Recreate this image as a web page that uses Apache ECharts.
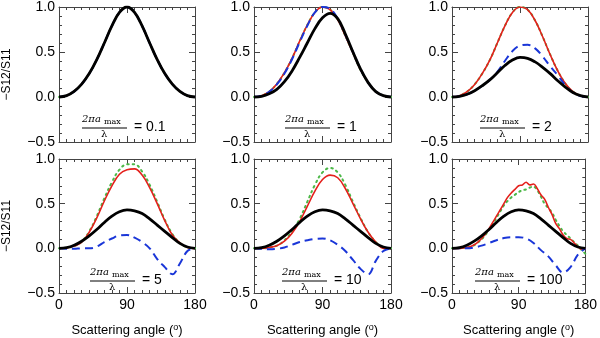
<!DOCTYPE html>
<html><head><meta charset="utf-8">
<script src="https://cdn.jsdelivr.net/npm/echarts@6/dist/echarts.min.js"></script>
<style>html,body{margin:0;padding:0;background:#fff}#c{width:600px;height:338px}</style>
</head><body><div id="c"></div>
<script>
// ---- data ----
const angles10 = [0,10,20,30,40,50,60,70,80,90,100,110,120,130,140,150,160,170,180];
const angles5 = [0,5,10,15,20,25,30,35,40,45,50,55,60,65,70,75,80,85,90,95,100,105,110,115,120,125,130,135,140,145,150,155,160,165,170,175,180];
const xTicks = [0, 90, 180];
const yTicks = [-0.5, 0, 0.5, 1.0];
const sizeLabels = ["0.1", "1", "2", "5", "10", "100"];

// panel 1 : 2πa/λ = 0.1
const p1Black = [0,0.015,0.062,0.143,0.26,0.415,0.6,0.79,0.94,1.0,0.94,0.79,0.6,0.415,0.26,0.143,0.062,0.015,0];
const p1Red   = [0,0.015,0.062,0.143,0.26,0.415,0.6,0.79,0.94,1.0,0.94,0.79,0.6,0.415,0.26,0.143,0.062,0.015,0];
const p1Green = [0,0.015,0.062,0.143,0.26,0.415,0.6,0.79,0.94,1.0,0.94,0.79,0.6,0.415,0.26,0.143,0.062,0.015,0];
const p1Blue  = [0,0.015,0.062,0.143,0.26,0.415,0.6,0.79,0.94,1.0,0.94,0.79,0.6,0.415,0.26,0.143,0.062,0.015,0];
// panel 2 : = 1
const p2Black = [0,0.008,0.035,0.085,0.17,0.29,0.44,0.6,0.76,0.88,0.93,0.87,0.7,0.5,0.31,0.16,0.06,0.015,0];
const p2Red   = [0,0.015,0.06,0.145,0.27,0.43,0.62,0.8,0.94,1.0,0.97,0.86,0.68,0.49,0.3,0.16,0.06,0.015,0];
const p2Green = [0,0.015,0.06,0.145,0.27,0.43,0.62,0.8,0.94,1.0,0.97,0.86,0.68,0.49,0.3,0.16,0.06,0.015,0];
const p2Blue  = [0,0.014,0.058,0.14,0.26,0.42,0.61,0.79,0.94,1.0,0.98,0.87,0.69,0.5,0.31,0.16,0.06,0.015,0];
// panel 3 : = 2
const p3Black = [0,0.008,0.03,0.07,0.125,0.19,0.27,0.35,0.41,0.44,0.43,0.39,0.33,0.26,0.18,0.11,0.05,0.015,0];
const p3Red   = [0,0.015,0.06,0.14,0.26,0.41,0.6,0.79,0.94,1.0,0.97,0.85,0.67,0.47,0.29,0.15,0.06,0.015,0];
const p3Green = [0,0.015,0.06,0.14,0.26,0.41,0.6,0.79,0.94,1.0,0.97,0.85,0.67,0.47,0.29,0.15,0.06,0.015,0];
const p3Blue  = [0,0.008,0.03,0.07,0.125,0.19,0.28,0.4,0.51,0.57,0.58,0.54,0.45,0.34,0.24,0.13,0.05,0.012,0];
// panel 4 : = 5
const p4Black = [0,0.008,0.035,0.08,0.14,0.21,0.29,0.36,0.41,0.43,0.42,0.39,0.33,0.26,0.19,0.12,0.055,0.015,0];
const p4Red   = [0,0.005,0.025,0.07,0.18,0.34,0.53,0.7,0.83,0.88,0.89,0.82,0.68,0.5,0.31,0.15,0.06,0.01,0];
const p4Green = [0,0.005,0.025,0.075,0.19,0.36,0.56,0.74,0.88,0.94,0.94,0.86,0.71,0.52,0.32,0.16,0.06,0.01,0];
const p4Blue  = [0,-0.005,-0.005,0,0.0,0.02,0.07,0.11,0.145,0.15,0.12,0.07,0.0,-0.12,-0.21,-0.29,-0.17,-0.03,0];
// panel 5 : = 10
const p5Black = [0,0.008,0.035,0.08,0.14,0.21,0.29,0.36,0.41,0.43,0.42,0.39,0.33,0.26,0.19,0.12,0.055,0.015,0];
const p5Red   = [0,0,0.01,0.03,0.08,0.17,0.3,0.47,0.64,0.77,0.82,0.79,0.67,0.5,0.33,0.18,0.07,0.0,0];
const p5Green = [0,0,0.01,0.03,0.09,0.19,0.33,0.52,0.71,0.85,0.9,0.85,0.71,0.52,0.34,0.18,0.07,0.01,0];
const p5Blue  = [0,-0.005,-0.01,-0.005,0.01,0.04,0.07,0.09,0.105,0.11,0.09,0.04,-0.03,-0.13,-0.23,-0.29,-0.14,-0.03,0];
// panel 6 : = 100
const p6Black = [0,0.008,0.035,0.08,0.14,0.21,0.29,0.36,0.41,0.43,0.42,0.39,0.33,0.26,0.19,0.12,0.055,0.015,0];
const p6Red   = [0,0,0,0.005,0.01,0.02,0.04,0.07,0.11,0.16,0.22,0.29,0.36,0.43,0.5,0.57,0.62,0.66,0.7,0.71,0.74,0.71,0.72,0.67,0.6,0.55,0.46,0.38,0.28,0.22,0.15,0.11,0.1,0.06,0.02,-0.01,0];
const p6Green = [0,0,0,0.005,0.01,0.02,0.035,0.065,0.1,0.15,0.21,0.27,0.34,0.41,0.48,0.53,0.57,0.6,0.63,0.65,0.66,0.68,0.69,0.65,0.58,0.5,0.45,0.4,0.32,0.25,0.19,0.15,0.11,0.07,0.03,-0.02,-0.06];
const p6Blue  = [0,0,0,0.01,0.03,0.06,0.09,0.115,0.125,0.125,0.11,0.06,-0.02,-0.09,-0.19,-0.27,-0.21,-0.07,0];

const panels = [
  {black:p1Black, red:p1Red, green:p1Green, blue:p1Blue, ax:angles10, axc:angles10},
  {black:p2Black, red:p2Red, green:p2Green, blue:p2Blue, ax:angles10, axc:angles10},
  {black:p3Black, red:p3Red, green:p3Green, blue:p3Blue, ax:angles10, axc:angles10},
  {black:p4Black, red:p4Red, green:p4Green, blue:p4Blue, ax:angles10, axc:angles10},
  {black:p5Black, red:p5Red, green:p5Green, blue:p5Blue, ax:angles10, axc:angles10},
  {black:p6Black, red:p6Red, green:p6Green, blue:p6Blue, ax:angles10, axc:angles5}
];

// ---- layout ----
const gridLefts = [59, 254, 452];
const gridWidths = [136, 137, 136];
const gridTops = [6, 159];
const gridH = 136;
const annOffsets = [23, 31, 28, 31, 28, 23];
const FONT = 'Liberation Sans, Arial, sans-serif';
const frame = '#444';

const zip = (a, v) => a.map((x, i) => [x, v[i]]);

const grids = [], xAxes = [], yAxes = [], series = [], graphics = [];
for (let k = 0; k < 6; k++) {
  const row = Math.floor(k / 3), col = k % 3;
  grids.push({left: gridLefts[col], top: gridTops[row], width: gridWidths[col], height: gridH});
  const common = {
    gridIndex: k, type: 'value',
    axisLine: {show: true, onZero: false, lineStyle: {color: frame, width: 1}},
    axisTick: {show: true, inside: true, length: 6, lineStyle: {color: frame}},
    minorTick: {show: true, length: 3, lineStyle: {color: frame}},
    splitLine: {show: false}
  };
  xAxes.push(Object.assign({}, common, {
    min: 0, max: 180, interval: 90, position: 'bottom',
    minorTick: Object.assign({}, common.minorTick, {splitNumber: 9}),
    axisLabel: {show: row === 1, fontSize: 14, color: '#000', fontFamily: FONT, margin: 5,
      formatter: v => xTicks.includes(v) ? String(v) : ''},
    name: row === 1 ? 'Scattering angle ({s|o})' : '',
    nameLocation: 'middle', nameGap: 30,
    nameTextStyle: {fontSize: 13, color: '#000', fontFamily: FONT,
      rich: {s: {fontSize: 9, color: '#000', fontFamily: FONT, verticalAlign: 'top', padding: [0,0,6,0]}}}
  }));
  xAxes.push(Object.assign({}, common, {
    min: 0, max: 180, interval: 90, position: 'top',
    minorTick: Object.assign({}, common.minorTick, {splitNumber: 9}),
    axisLabel: {show: false}
  }));
  yAxes.push(Object.assign({}, common, {
    min: -0.5, max: 1.0, interval: 0.5, position: 'left',
    minorTick: Object.assign({}, common.minorTick, {splitNumber: 5}),
    axisLabel: {show: true, fontSize: 14, color: '#000', fontFamily: FONT, margin: 4,
      formatter: v => { const t = yTicks.find(y => Math.abs(y - v) < 1e-9); return t === undefined ? '' : (t < 0 ? '\u2212' + Math.abs(t).toFixed(1) : t.toFixed(1)); }},
    name: col === 0 ? '\u2212S12/S11' : '',
    nameLocation: 'middle', nameGap: 46,
    nameTextStyle: {fontSize: 12, color: '#000', fontFamily: FONT}
  }));
  yAxes.push(Object.assign({}, common, {
    min: -0.5, max: 1.0, interval: 0.5, position: 'right',
    minorTick: Object.assign({}, common.minorTick, {splitNumber: 5}),
    axisLabel: {show: false}
  }));

  const p = panels[k];
  const base = {type: 'line', xAxisIndex: 2 * k, yAxisIndex: 2 * k, showSymbol: false, smooth: 0.4, silent: true, animation: false, clip: true};
  series.push(Object.assign({}, base, {data: zip(p.axc, p.green), lineStyle: {color: '#4cb848', width: 2, type: [1.5, 4], cap: 'round'}}));
  series.push(Object.assign({}, base, {data: zip(p.axc, p.red), lineStyle: {color: '#e4201c', width: 1.6}}));
  series.push(Object.assign({}, base, {data: zip(p.ax, p.blue), lineStyle: {color: '#1a36d8', width: 2, type: [8, 5]}}));
  series.push(Object.assign({}, base, {data: zip(p.ax, p.black), lineStyle: {color: '#000', width: 2.8}}));

  // annotation 2πa_max / λ = N
  const ax0 = gridLefts[col] + annOffsets[k];
  const ay0 = gridTops[row] + 109;
  graphics.push({type: 'text', left: ax0, top: ay0 - 1, style: {text: '2\u03c0a', font: 'italic 10px DejaVu Serif', fill: '#000'}});
  graphics.push({type: 'text', left: ax0 + 22, top: ay0 + 3, style: {text: 'max', font: '8px DejaVu Serif', fill: '#000'}});
  graphics.push({type: 'line', shape: {x1: ax0, y1: ay0 + 13, x2: ax0 + 45, y2: ay0 + 13}, style: {stroke: '#000', lineWidth: 1}});
  graphics.push({type: 'text', left: ax0 + 19, top: ay0 + 14, style: {text: '\u03bb', font: '10px DejaVu Serif', fill: '#000'}});
  graphics.push({type: 'text', left: ax0 + 52, top: ay0 + 5, style: {text: '= ' + sizeLabels[k], font: '14px Liberation Sans', fill: '#000'}});
}

const chart = echarts.init(document.getElementById('c'), null, {renderer: 'canvas'});
chart.setOption({
  animation: false,
  backgroundColor: '#fff',
  grid: grids, xAxis: xAxes, yAxis: yAxes, series: series,
  graphic: graphics
});
</script>
</body></html>
